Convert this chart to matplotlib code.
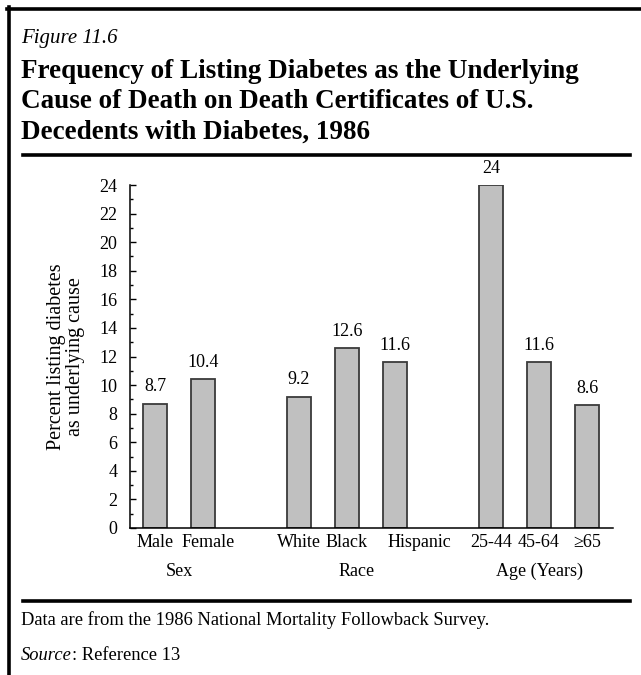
import matplotlib.pyplot as plt
from matplotlib.ticker import MultipleLocator
from matplotlib.lines import Line2D
import matplotlib.transforms as mtransforms

# data
categories = ["Male", "Female", "White", "Black", "Hispanic", "25-44", "45-64", "\u226565"]
slots = [0, 1, 3, 4, 5, 7, 8, 9]
values = [8.7, 10.4, 9.2, 12.6, 11.6, 24, 11.6, 8.6]
value_labels = ["8.7", "10.4", "9.2", "12.6", "11.6", "24", "11.6", "8.6"]
groups = ["Sex", "Race", "Age (Years)"]
group_pos = [0.5, 4.2, 8.0]
yticks = list(range(0, 25, 2))
title_lines = ["Frequency of Listing Diabetes as the Underlying",
               "Cause of Death on Death Certificates of U.S.",
               "Decedents with Diabetes, 1986"]

plt.rcParams['font.family'] = ['Liberation Serif', 'DejaVu Serif']

fig = plt.figure(figsize=(6.41, 6.75), dpi=100)
W, H = 641, 675

def fx(px):
    return px / W

def fy(py):
    return 1 - py / H

# frame lines
fig.add_artist(Line2D([fx(8.5), fx(8.5)], [fy(7), fy(675)], color="black", lw=2.6))
fig.add_artist(Line2D([fx(7), fx(641)], [fy(8.5), fy(8.5)], color="black", lw=2.6))
fig.add_artist(Line2D([fx(23), fx(630)], [fy(154.5), fy(154.5)], color="black", lw=2.6))
fig.add_artist(Line2D([fx(23), fx(630)], [fy(600.5), fy(600.5)], color="black", lw=2.6))

# titles
fig.text(fx(21), fy(39), "Figure 11.6", style="italic", fontsize=15, va="center", ha="left")
for i, line in enumerate(title_lines):
    fig.text(fx(21), fy(72 + 30 * i), line, fontweight="bold", fontsize=19.5, va="center", ha="left")

# footer
fig.text(fx(21), fy(620), "Data are from the 1986 National Mortality Followback Survey.", fontsize=13.3, va="center")
src = fig.text(fx(21), fy(655), "Source", style="italic", fontsize=13.3, va="center")
fig.add_artist(plt.Annotation(": Reference 13", xy=(1, 0.5), xycoords=src, ha="left", va="center", fontsize=13.3))

# axes
ax = fig.add_axes([fx(130), fy(528), fx(613) - fx(130), fy(185) - fy(528)])
ax.bar(slots, values, width=0.5, color="#c0c0c0", edgecolor="#3a3a3a", linewidth=1.3, zorder=2)
for x, v, lab in zip(slots, values, value_labels):
    ax.annotate(lab, (x, v), xytext=(0, 6), textcoords="offset points",
                ha="center", va="bottom", fontsize=13)

ax.set_xlim(-0.52, 9.54)
ax.set_ylim(0, 24)
ax.set_yticks(yticks)
ax.yaxis.set_minor_locator(MultipleLocator(1))
ax.tick_params(axis="y", which="major", direction="in", length=4.5, width=1, labelsize=13, pad=9)
ax.tick_params(axis="y", which="minor", direction="in", length=2.5, width=1)
for s in ["top", "right"]:
    ax.spines[s].set_visible(False)
ax.spines["left"].set_linewidth(1.1)
ax.spines["bottom"].set_linewidth(1.1)

ax.set_xticks(slots)
ax.set_xticklabels(categories)
ax.tick_params(axis="x", length=0, labelsize=13, pad=4)
# Hispanic label sits a bit right of its bar
hisp = ax.get_xticklabels()[4]
hisp.set_transform(hisp.get_transform() + mtransforms.ScaledTranslation(0.24, 0, fig.dpi_scale_trans))
fem = ax.get_xticklabels()[1]
fem.set_transform(fem.get_transform() + mtransforms.ScaledTranslation(0.05, 0, fig.dpi_scale_trans))

for g, gx in zip(groups, group_pos):
    ax.text(gx, fy(571), g, transform=mtransforms.blended_transform_factory(ax.transData, fig.transFigure),
            ha="center", va="center", fontsize=13)

ax.set_ylabel("Percent listing diabetes\nas underlying cause", fontsize=14.5, linespacing=1.05, labelpad=10)

fig.savefig("out.png", dpi=100)
